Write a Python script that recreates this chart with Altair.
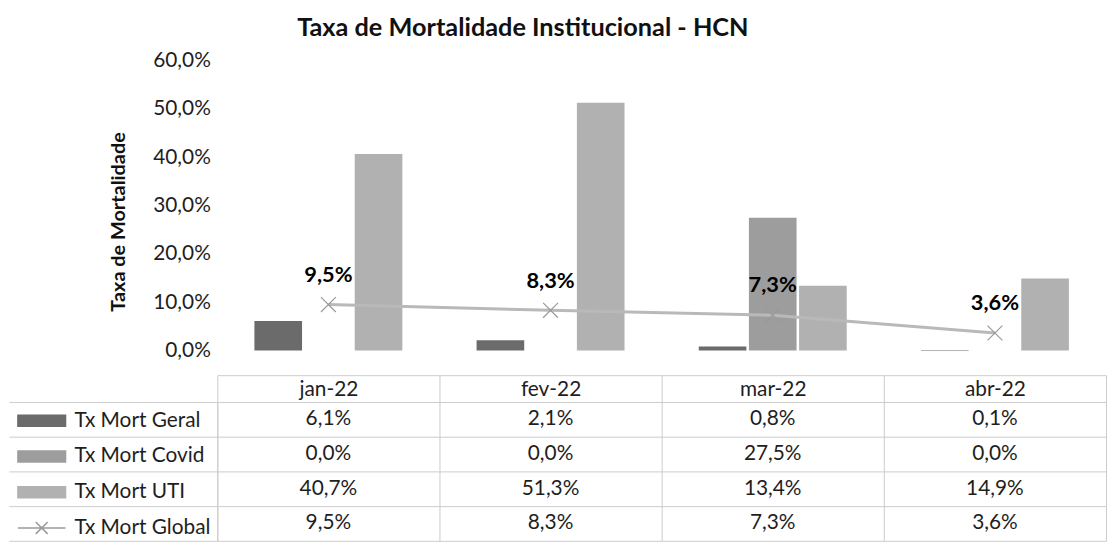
import altair as alt
import pandas as pd

# ---------------- data ----------------
months = ["jan-22", "fev-22", "mar-22", "abr-22"]
bar_series = ["Tx Mort Geral", "Tx Mort Covid", "Tx Mort UTI"]
line_series = "Tx Mort Global"
all_series = bar_series + [line_series]
geral = [6.1, 2.1, 0.8, 0.1]
covid = [0.0, 0.0, 27.5, 0.0]
uti = [40.7, 51.3, 13.4, 14.9]
global_rate = [9.5, 8.3, 7.3, 3.6]
y_ticks = [0, 10, 20, 30, 40, 50, 60]

chart_title = "Taxa de Mortalidade Institucional - HCN"
y_title = "Taxa de Mortalidade"


def pct(v):
    return f"{v:.1f}".replace(".", ",") + "%"


bars_df = pd.DataFrame(
    [
        {"month": m, "series": s, "value": v, "label": pct(v)}
        for s, vals in zip(bar_series, [geral, covid, uti])
        for m, v in zip(months, vals)
    ]
)
line_df = pd.DataFrame(
    {
        "month": months,
        "series": line_series,
        "value": global_rate,
        "label": [pct(v) for v in global_rate],
    }
)
table_df = pd.concat([bars_df, line_df], ignore_index=True)

# ---------------- style ----------------
FONT = "Lato"
TXT = "#1e1e1e"
GRID = "#cbcbcb"
W = 896
H_BAR = 292
H_TAB = 140
bar_colors = ["#6b6b6b", "#9d9d9d", "#b1b1b1"]
line_color = "#b9b9b9"
RECT = "M-2.4,-0.55H2.4V0.55H-2.4Z"
LINEX = "M-2.4,0H2.4M-0.6,-0.6L0.6,0.6M-0.6,0.6L0.6,-0.6"
XMARK = "M-1,-1L1,1M-1,1L1,-1"

# ---------------- bar / line chart ----------------
x_bar = alt.X(
    "month:N",
    sort=months,
    scale=alt.Scale(domain=months, paddingInner=0, paddingOuter=0),
    axis=alt.Axis(
        title=None,
        orient="bottom",
        offset=25,
        domainColor=GRID,
        tickColor=GRID,
        tickSize=27,
        tickBand="extent",
        labelFont=FONT,
        labelFontSize=21,
        labelColor=TXT,
        labelAngle=0,
        labelBaseline="middle",
        labelPadding=-13,
    ),
)
y_bar = alt.Y(
    "value:Q",
    scale=alt.Scale(domain=[0, 60], nice=False),
    axis=alt.Axis(
        values=y_ticks,
        title=y_title,
        labelExpr="replace(format(datum.value, '.1f'), '.', ',') + '%'",
        domain=False,
        ticks=False,
        grid=False,
        labelFont=FONT,
        labelFontSize=21,
        labelColor=TXT,
        labelPadding=7,
        titleFont=FONT,
        titleFontSize=20,
        titleFontWeight="bold",
        titleColor="#111111",
        titlePadding=24,
        titleY=162,
    ),
)

bars = (
    alt.Chart(bars_df)
    .mark_bar()
    .encode(
        x=x_bar,
        y=y_bar,
        xOffset=alt.XOffset(
            "series:N",
            scale=alt.Scale(domain=bar_series, paddingInner=0.05, paddingOuter=0.74),
        ),
        color=alt.Color(
            "series:N",
            scale=alt.Scale(domain=bar_series, range=bar_colors),
            legend=None,
        ),
    )
)

line = (
    alt.Chart(line_df)
    .mark_line(color=line_color, strokeWidth=3)
    .encode(x=x_bar, y=y_bar)
)
marks = (
    alt.Chart(line_df)
    .mark_point(shape=XMARK, size=225, filled=False, stroke="#999999", strokeWidth=1.2, opacity=1)
    .encode(x=x_bar, y=y_bar)
)
labels = (
    alt.Chart(line_df)
    .mark_text(font=FONT, fontSize=22, fontWeight="bold", color="#000000", dy=-30)
    .encode(x=x_bar, y=y_bar, text="label:N")
)

bar_chart = alt.layer(bars, line, marks, labels).properties(width=W, height=H_BAR)

# ---------------- data table ----------------
x_tab = alt.X(
    "month:N",
    sort=months,
    scale=alt.Scale(domain=months, paddingInner=0, paddingOuter=0),
    axis=alt.Axis(
        title=None,
        labels=False,
        ticks=False,
        domain=False,
        grid=True,
        gridColor=GRID,
        tickBand="extent",
    ),
)
y_tab = alt.Y(
    "series:N",
    sort=all_series,
    scale=alt.Scale(domain=all_series, paddingInner=0, paddingOuter=0),
    axis=alt.Axis(
        title=None,
        labels=False,
        ticks=True,
        tickSize=210,
        tickColor=GRID,
        tickBand="extent",
        domain=True,
        domainColor=GRID,
        grid=True,
        gridColor=GRID,
    ),
)

cells = (
    alt.Chart(table_df)
    .mark_text(font=FONT, fontSize=21, color=TXT)
    .encode(x=x_tab, y=y_tab, text="label:N")
)

leg = alt.Legend(
    title=None,
    orient="none",
    legendX=-188,
    legendY=8,
    symbolSize=400,
    symbolStrokeWidth=1.5,
    symbolOpacity=1,
    labelFont=FONT,
    labelFontSize=21,
    labelColor=TXT,
    labelOffset=22,
    rowPadding=15,
    labelLimit=300,
    padding=0,
)
legend_layer = (
    alt.Chart(table_df)
    .transform_filter("false")
    .mark_point(filled=True, opacity=1)
    .encode(
        fill=alt.Fill(
            "series:N",
            scale=alt.Scale(domain=all_series, range=bar_colors + ["transparent"]),
            legend=leg,
        ),
        stroke=alt.Stroke(
            "series:N",
            scale=alt.Scale(domain=all_series, range=bar_colors + ["#9a9a9a"]),
            legend=leg,
        ),
        shape=alt.Shape(
            "series:N",
            scale=alt.Scale(domain=all_series, range=[RECT, RECT, RECT, LINEX]),
            legend=leg,
        ),
    )
)

table_chart = alt.layer(cells, legend_layer).properties(width=W, height=H_TAB)

chart = (
    alt.vconcat(bar_chart, table_chart, spacing=52, bounds="flush")
    .resolve_scale(color="independent", fill="independent", stroke="independent", shape="independent")
    .properties(
        title=alt.TitleParams(
            text=chart_title,
            font=FONT,
            fontSize=25.5,
            fontWeight="bold",
            color="#111111",
            anchor="start",
            dx=291,
            offset=8,
        ),
        padding={"left": 0, "top": 6, "right": 0, "bottom": 0},
    )
    .configure_view(stroke=None)
)

chart.save("out.html", embed_options={"renderer": "svg", "actions": False})
